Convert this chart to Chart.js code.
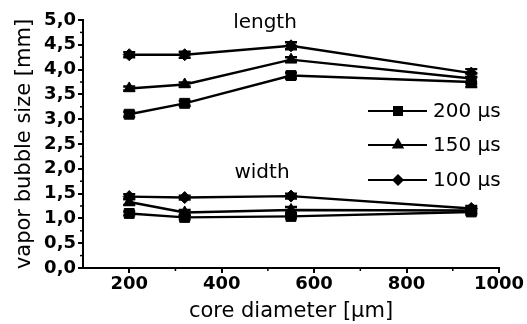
<!DOCTYPE html>
<html><head><meta charset="utf-8">
<script src="https://cdn.jsdelivr.net/npm/chart.js@4"></script>
<style>html,body{margin:0;padding:0;background:#fff}canvas{display:block}</style>
</head><body>
<canvas id="c" width="527" height="324"></canvas>
<script>
// ---- data ----
const coreDiameters = [200, 320, 550, 940];
const length200 = [3.10, 3.32, 3.88, 3.75];
const length150 = [3.62, 3.70, 4.20, 3.82];
const length100 = [4.30, 4.30, 4.48, 3.93];
const width200  = [1.10, 1.02, 1.04, 1.13];
const width150  = [1.33, 1.12, 1.17, 1.16];
const width100  = [1.44, 1.42, 1.45, 1.20];
const lengthErr200 = [0.05, 0.05, 0.06, 0.10];
const lengthErr150 = [0.04, 0.04, 0.05, 0.10];
const lengthErr100 = [0.05, 0.06, 0.07, 0.08];
const widthErr200  = [0.04, 0.04, 0.04, 0.05];
const widthErr150  = [0.06, 0.05, 0.06, 0.05];
const widthErr100  = [0.05, 0.04, 0.05, 0.05];
const seriesLabels = ['200 µs', '150 µs', '100 µs'];
const seriesMarkers = ['rect', 'triangle', 'rectRot'];
const xTicks = [200, 400, 600, 800, 1000];
const xTickLabels = ['200', '400', '600', '800', '1000'];
const xMinorTicks = [300, 500, 700, 900];
const yTicks = [0, 0.5, 1, 1.5, 2, 2.5, 3, 3.5, 4, 4.5, 5];
const yTickLabels = ['0,0','0,5','1,0','1,5','2,0','2,5','3,0','3,5','4,0','4,5','5,0'];
const yMinorTicks = [0.25,0.75,1.25,1.75,2.25,2.75,3.25,3.75,4.25,4.75];
const groupLabels = ['length', 'width'];
const xTitle = 'core diameter [µm]';
const yTitle = 'vapor bubble size [mm]';

const radii = {rect: 7, triangle: 6.5, rectRot: 6};

function mk(vals, errs, idx) {
  return {
    data: coreDiameters.map((x, i) => ({x: x, y: vals[i]})),
    errors: errs,
    borderColor: '#000', backgroundColor: '#000',
    borderWidth: 2.4,
    pointStyle: seriesMarkers[idx],
    pointRadius: radii[seriesMarkers[idx]],
    pointBorderWidth: 1,
    tension: 0,
    fill: false
  };
}

const datasets = [
  mk(length200, lengthErr200, 0), mk(length150, lengthErr150, 1), mk(length100, lengthErr100, 2),
  mk(width200, widthErr200, 0), mk(width150, widthErr150, 1), mk(width100, widthErr100, 2)
];

const extras = {
  id: 'extras',
  beforeDatasetsDraw(chart) {
    const ctx = chart.ctx, xs = chart.scales.x, ys = chart.scales.y;
    ctx.save();
    ctx.strokeStyle = '#000'; ctx.lineWidth = 2.4;
    chart.data.datasets.forEach(ds => {
      ds.data.forEach((p, i) => {
        const e = ds.errors[i];
        const px = xs.getPixelForValue(p.x);
        const y1 = ys.getPixelForValue(p.y + e), y2 = ys.getPixelForValue(p.y - e);
        ctx.beginPath();
        ctx.moveTo(px, y1); ctx.lineTo(px, y2);
        ctx.moveTo(px - 6, y1); ctx.lineTo(px + 6, y1);
        ctx.moveTo(px - 6, y2); ctx.lineTo(px + 6, y2);
        ctx.stroke();
      });
    });
    // minor ticks
    ctx.lineWidth = 1.5;
    const bottom = ys.getPixelForValue(0), left = xs.getPixelForValue(100);
    xMinorTicks.forEach(v => {
      const px = xs.getPixelForValue(v);
      ctx.beginPath(); ctx.moveTo(px, bottom); ctx.lineTo(px, bottom + 3); ctx.stroke();
    });
    yMinorTicks.forEach(v => {
      const py = ys.getPixelForValue(v);
      ctx.beginPath(); ctx.moveTo(left, py); ctx.lineTo(left - 3, py); ctx.stroke();
    });
    ctx.restore();
  },
  afterDraw(chart) {
    const ctx = chart.ctx;
    ctx.save();
    ctx.fillStyle = '#000'; ctx.strokeStyle = '#000';
    ctx.font = '20px "DejaVu Sans"';
    ctx.textAlign = 'center'; ctx.textBaseline = 'middle';
    ctx.fillText(groupLabels[0], 265, 23);
    ctx.fillText(groupLabels[1], 262, 173);
    // legend
    const ly = [111, 145, 180];
    seriesLabels.forEach((lab, i) => {
      ctx.lineWidth = 2.2;
      ctx.beginPath(); ctx.moveTo(368, ly[i]); ctx.lineTo(427, ly[i]); ctx.stroke();
      Chart.helpers.drawPoint(ctx, {pointStyle: seriesMarkers[i], radius: radii[seriesMarkers[i]] - 1.5, borderWidth: 1}, 398, ly[i]);
      ctx.fill();
      ctx.textAlign = 'left';
      ctx.fillText(lab, 433, ly[i] + 1);
    });
    ctx.restore();
  }
};

new Chart(document.getElementById('c'), {
  type: 'line',
  data: {datasets: datasets},
  options: {
    responsive: false, animation: false,
    layout: {padding: {top: 20, right: 28, left: 0, bottom: 0}},
    plugins: {legend: {display: false}, tooltip: {enabled: false}},
    scales: {
      x: {
        type: 'linear', min: 100, max: 1000,
        afterBuildTicks: s => { s.ticks = xTicks.map(v => ({value: v})); },
        afterFit: s => { s.height = 56; },
        grid: {drawOnChartArea: false, drawTicks: true, tickLength: 5, color: '#000', lineWidth: 2},
        border: {display: true, color: '#000', width: 2},
        ticks: {color: '#000', padding: 1, maxRotation: 0, autoSkip: false,
                callback: v => xTickLabels[xTicks.indexOf(v)],
                font: {family: 'DejaVu Sans', size: 18, weight: 'bold'}},
        title: {display: true, text: xTitle, color: '#000', padding: {top: 6, bottom: 0},
                font: {family: 'DejaVu Sans', size: 21}}
      },
      y: {
        min: 0, max: 5,
        afterBuildTicks: s => { s.ticks = yTicks.map(v => ({value: v})); },
        afterFit: s => { s.width = 83; },
        grid: {drawOnChartArea: false, drawTicks: true, tickLength: 5, color: '#000', lineWidth: 2},
        border: {display: true, color: '#000', width: 2},
        ticks: {color: '#000', padding: 2, autoSkip: false,
                callback: v => yTickLabels[yTicks.indexOf(v)],
                font: {family: 'DejaVu Sans', size: 18, weight: 'bold'}},
        title: {display: true, text: yTitle, color: '#000', padding: {top: 12, bottom: 0},
                font: {family: 'DejaVu Sans', size: 21}}
      }
    }
  },
  plugins: [extras]
});
</script>
</body></html>
